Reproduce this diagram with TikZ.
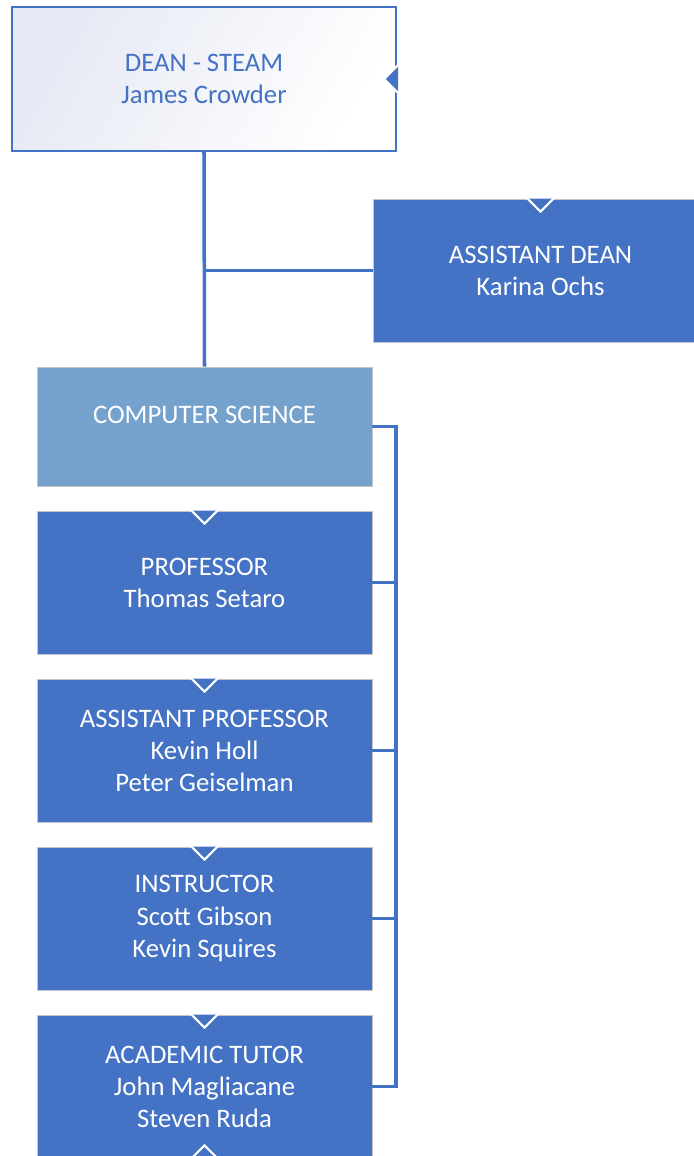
\documentclass[tikz,border=0pt]{standalone}
\usepackage{fontspec}
\setmainfont{Carlito}
\usepackage{tikz}
\usetikzlibrary{calc}
\usetikzlibrary{positioning}
\definecolor{orgblue}{HTML}{4472C4}
\definecolor{deptblue}{HTML}{75A1CD}
\definecolor{edgegray}{HTML}{C4C4C4}
\definecolor{deanshade}{HTML}{E6E9F4}
\tikzstyle{card} = [rectangle, draw=edgegray, line width=0.6pt, fill=orgblue, text=white, align=center, minimum width=8.375cm, minimum height=3.575cm, inner sep=0, font=\fontsize{19}{22.8}\selectfont]
\tikzstyle{dept} = [card, fill=deptblue, minimum height=2.975cm, text height=0.5cm, text depth=0.65cm]
\tikzstyle{dean} = [card, draw=orgblue, line width=1.4pt, left color=deanshade, right color=white, shading angle=60, text=orgblue, minimum width=9.6cm, minimum height=3.6cm]
\tikzstyle{link} = [-, draw=orgblue, line width=2.5pt]
\tikzstyle{notch} = [draw=white, fill=orgblue, line width=1.5pt]

\begin{document}
\begin{tikzpicture}[x=0.025cm, y=-0.025cm]
\clip (0,0) rectangle (694,1156);
% dean and assistant
\node [dean] (dean) at (204, 79) {DEAN - STEAM\\James Crowder};
\node [card] (asst) at (540.5, 270.5) {ASSISTANT DEAN\\Karina Ochs};
% department column
\node [dept] (cs) at (204.5, 426.5) {COMPUTER SCIENCE};
\node [card] (prof) at (204.5, 582.5) {PROFESSOR\\Thomas Setaro};
\node [card] (aprof) at (204.5, 750.5) {ASSISTANT PROFESSOR\\Kevin Holl\\Peter Geiselman};
\node [card] (instr) at (204.5, 918.5) {INSTRUCTOR\\Scott Gibson\\Kevin Squires};
\node [card] (tutor) at (204.5, 1086.5) {ACADEMIC TUTOR\\John Magliacane\\Steven Ruda};
% connectors
\draw [link] (dean.south) -- (cs.north);
\draw [link] (dean.south |- asst.west) -- (asst.west);
\coordinate (rail) at (396, 426.5);
\draw [link] (cs.east) -- (rail) -- (rail |- tutor.east) -- (tutor.east);
\foreach \n in {prof, aprof, instr}
  \draw [link] (rail |- \n.east) -- (\n.east);
% notches
\filldraw [notch] ($(dean.east)+(1,-14)$) -- ++(-14,14) -- ++(14,14);
\foreach \n in {asst, prof, aprof, instr, tutor}
  \filldraw [notch] ($(\n.north)+(-13,0)$) -- ++(13,13) -- ++(13,-13);
\filldraw [notch] ($(tutor.south)+(-13,0)$) -- ++(13,-13) -- ++(13,13);
\end{tikzpicture}
\end{document}
